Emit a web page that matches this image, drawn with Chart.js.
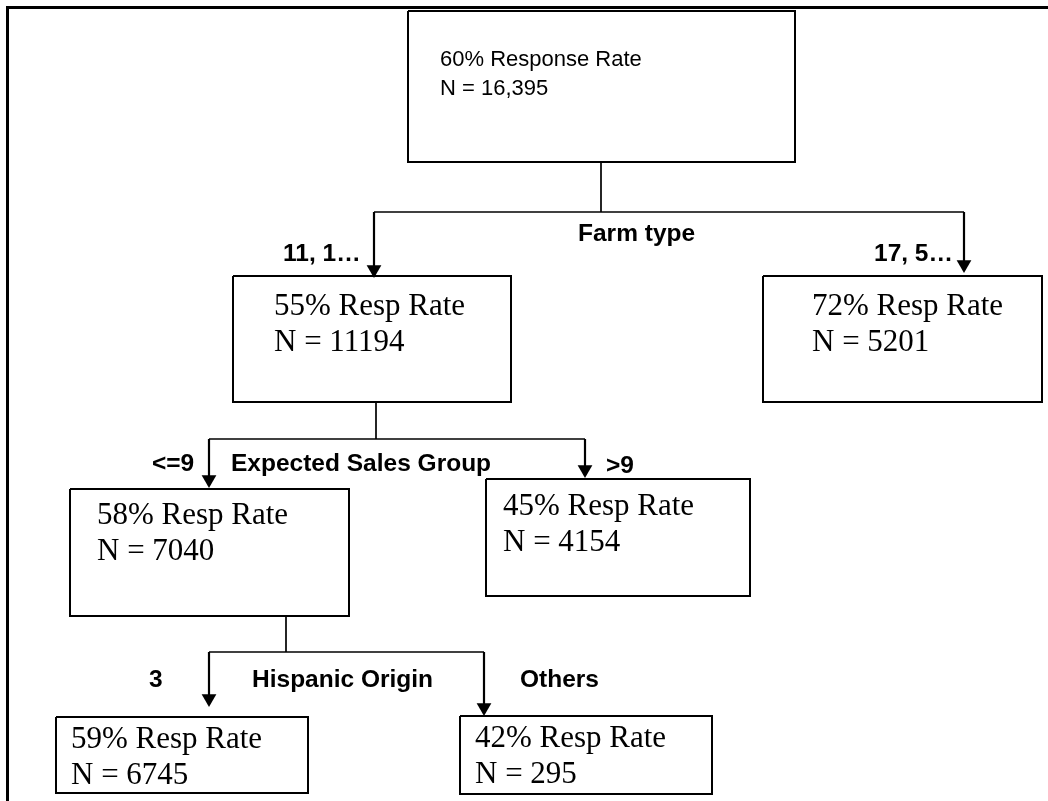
<!DOCTYPE html>
<html>
<head>
<meta charset="utf-8">
<script src="https://cdn.jsdelivr.net/npm/chart.js@4"></script>
<style>
  html, body { margin: 0; padding: 0; background: #fff; }
  #wrap { width: 1048px; height: 801px; }
</style>
</head>
<body>
<div id="wrap"><canvas id="treeChart"></canvas></div>
<script>
// tree values
const nodeRates = [60, 55, 72, 58, 45, 59, 42];
const nodeCounts = ['16,395', '11194', '5201', '7040', '4154', '6745', '295'];
const splitNames = ['Farm type', 'Expected Sales Group', 'Hispanic Origin'];
const branchLabels = ['11, 1…', '17, 5…', '<=9', '>9', '3', 'Others'];
const splitParent = [0, 1, 3];

// layout in axis units (1 unit = 1 px)
const boxRects = [ // left, top, right, bottom
  [408, 11, 795, 162],
  [233, 276, 511, 402],
  [763, 276, 1042, 402],
  [70, 489, 349, 616],
  [486, 479, 750, 596],
  [56, 717, 308, 793],
  [460, 716, 712, 794],
];
const textSpots = [ // x, first line centre
  [440, 60], [274, 307], [812, 307], [97, 516], [503, 507], [71, 740], [475, 739],
];
const splitBars = [ // stem x, bar y, arm x left/right, tip y left/right
  { stem: 601, bar: 212, arms: [374, 964], tips: [278, 273] },
  { stem: 376, bar: 439, arms: [209, 585], tips: [488, 478] },
  { stem: 286, bar: 652, arms: [209, 484], tips: [707, 716] },
];
const splitNameSpots = [[578, 234], [231, 464], [252, 680]];
const branchSpots = [[283, 254], [874, 254], [152, 464], [606, 466], [149, 680], [520, 680]];
const arrowR = 8.5;

const datasets = [];
const line = (pts, w) => datasets.push({
  type: 'line', data: pts, borderColor: '#000', borderWidth: w,
  pointRadius: 0, fill: false, tension: 0, borderJoinStyle: 'miter', clip: false
});

// outer frame
line([{ x: 7.5, y: 801 }, { x: 7.5, y: 7.5 }, { x: 1048, y: 7.5 }], 3);

// node boxes
boxRects.forEach(([l, t, r, b]) => {
  line([{ x: l, y: t }, { x: r, y: t }, { x: r, y: b }, { x: l, y: b }, { x: l, y: t }], 2);
});

// connectors and arrows
const heads = [];
splitBars.forEach((s, i) => {
  const parentBottom = boxRects[splitParent[i]][3];
  line([{ x: s.stem, y: parentBottom }, { x: s.stem, y: s.bar }], 1.7);
  line([{ x: s.arms[0], y: s.bar }, { x: s.arms[1], y: s.bar }], 1.7);
  s.arms.forEach((ax, k) => {
    line([{ x: ax, y: s.bar }, { x: ax, y: s.tips[k] - arrowR }], 2.2);
    heads.push({ x: ax, y: s.tips[k] - arrowR });
  });
});
datasets.push({
  type: 'scatter', data: heads, pointStyle: 'triangle', rotation: 180,
  pointRadius: arrowR, backgroundColor: '#000', borderColor: '#000', borderWidth: 0, clip: false
});

const textPlugin = {
  id: 'treeText',
  afterDatasetsDraw(chart) {
    const { ctx, scales: { x, y } } = chart;
    ctx.save();
    ctx.fillStyle = '#000';
    ctx.textBaseline = 'middle';
    ctx.textAlign = 'left';
    nodeRates.forEach((rate, i) => {
      const [tx, ty] = textSpots[i];
      const px = x.getPixelForValue(tx);
      if (i === 0) {
        ctx.font = '22px "Liberation Sans", Arial, sans-serif';
        ctx.fillText(rate + '% Response Rate', px, y.getPixelForValue(ty));
        ctx.fillText('N = ' + nodeCounts[i], px, y.getPixelForValue(ty + 29));
      } else {
        ctx.font = '31px "Liberation Serif", "Times New Roman", serif';
        ctx.fillText(rate + '% Resp Rate', px, y.getPixelForValue(ty));
        ctx.fillText('N = ' + nodeCounts[i], px, y.getPixelForValue(ty + 36));
      }
    });
    ctx.font = 'bold 24.5px "Liberation Sans", Arial, sans-serif';
    splitNames.forEach((name, i) => {
      const [tx, ty] = splitNameSpots[i];
      ctx.fillText(name, x.getPixelForValue(tx), y.getPixelForValue(ty));
    });
    branchLabels.forEach((lab, i) => {
      const [tx, ty] = branchSpots[i];
      ctx.fillText(lab, x.getPixelForValue(tx), y.getPixelForValue(ty));
    });
    ctx.restore();
  }
};

new Chart(document.getElementById('treeChart'), {
  type: 'scatter',
  data: { datasets },
  options: {
    responsive: true,
    maintainAspectRatio: false,
    animation: false,
    devicePixelRatio: 1,
    layout: { padding: 0, autoPadding: false },
    scales: {
      x: { type: 'linear', min: 0, max: 1048, display: false },
      y: { type: 'linear', min: 0, max: 801, reverse: true, display: false },
    },
    plugins: { legend: { display: false }, tooltip: { enabled: false } },
  },
  plugins: [textPlugin],
});
</script>
</body>
</html>
